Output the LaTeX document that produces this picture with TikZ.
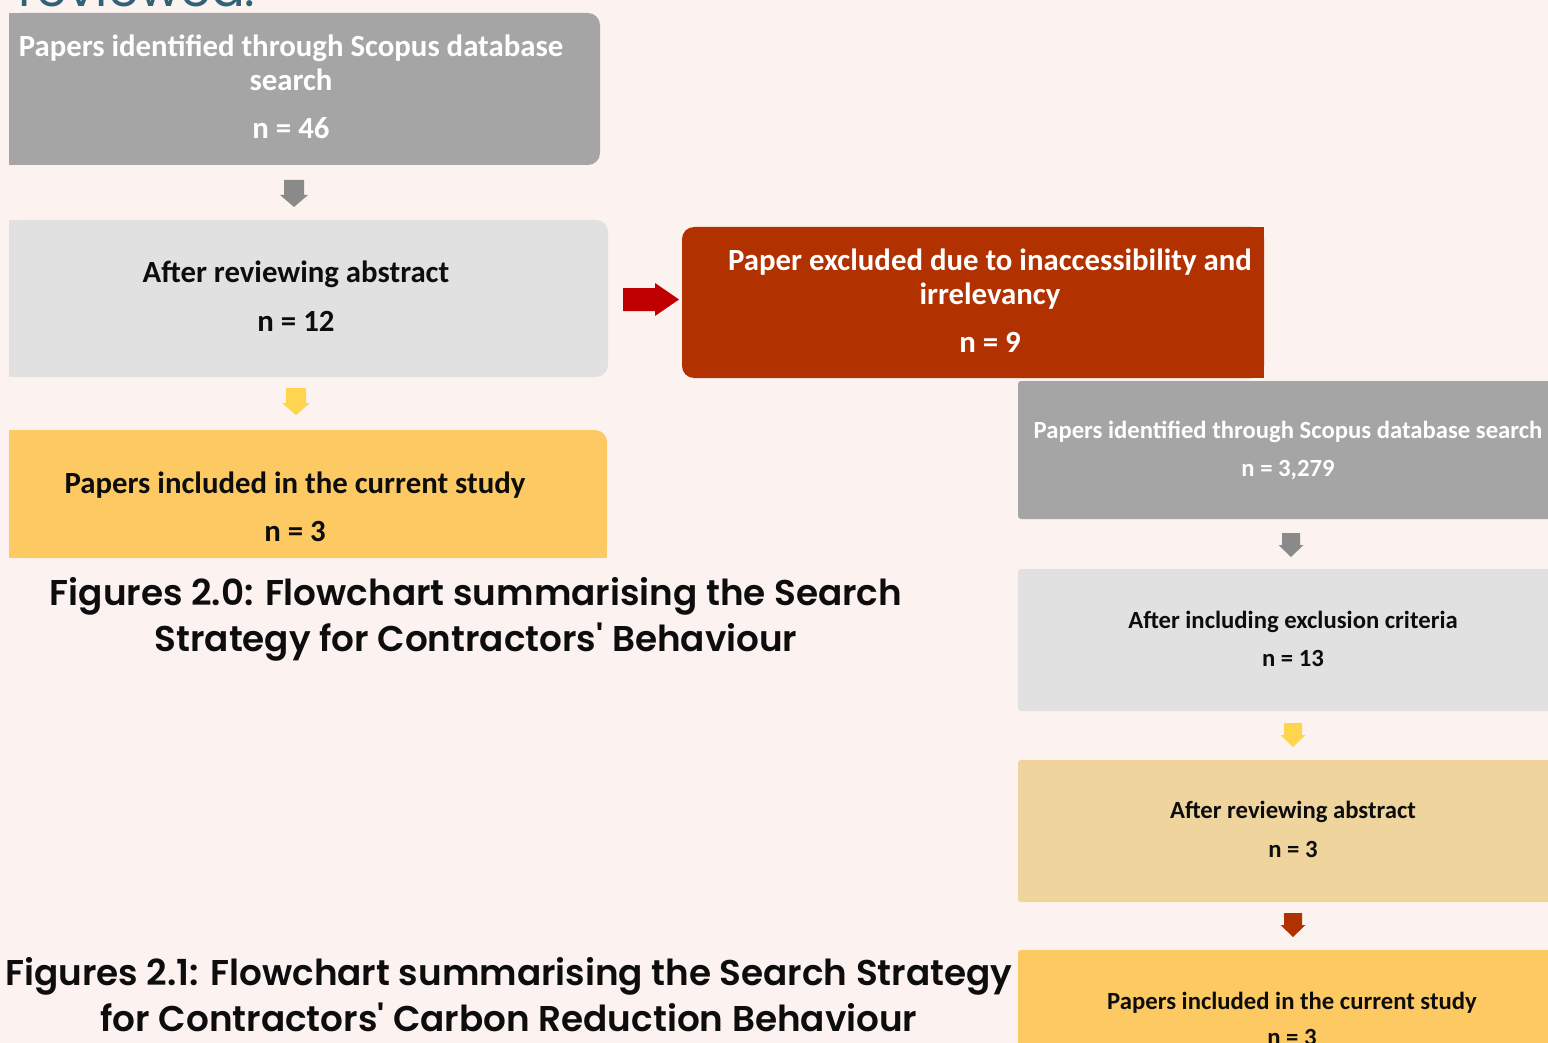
\documentclass[tikz,border=0pt]{standalone}
\usepackage{fontspec}
\setmainfont{Carlito}
\IfFontExistsTF{Poppins SemiBold}{\newfontfamily\capfont{Poppins SemiBold}}{\newfontfamily\capfontbase{Poppins}\newcommand\capfont{\capfontbase\bfseries}}
\newfontfamily\tealfont{Poppins}
\definecolor{bg}{HTML}{FCF3F0}
\definecolor{cgray}{HTML}{A5A5A5}
\definecolor{clight}{HTML}{E1E1E1}
\definecolor{corange}{HTML}{B23100}
\definecolor{cyellow}{HTML}{FCC962}
\definecolor{ctan}{HTML}{F0D49E}
\definecolor{cred}{HTML}{C00000}
\definecolor{cgarrow}{HTML}{8A8A8A}
\definecolor{cyarrow}{HTML}{FFD44F}
\definecolor{cteal}{HTML}{2E6274}
\definecolor{ctext}{HTML}{0D0D0D}
\begin{document}
\begin{tikzpicture}[x=1pt,y=-1pt,
  boxshape/.style={draw=none, inner sep=0pt, outer sep=0pt},
  lt/.style={anchor=base, inner sep=0pt, font=\fontsize{30.8}{33}\selectfont\bfseries},
  rt/.style={anchor=base, inner sep=0pt, font=\fontsize{24.7}{26}\selectfont\bfseries},
  captext/.style={anchor=base, inner sep=0pt, text=ctext, font=\fontsize{35.8}{46}\selectfont\capfont},
  darrL/.pic={\path[pic actions] (-10,0) -- (10,0) -- (10,15) -- (14,15) -- (0,27) -- (-14,15) -- (-10,15) -- cycle;},
  darrR/.pic={\path[pic actions] (-9,0) -- (9,0) -- (9,12) -- (12.5,12) -- (0,24) -- (-12.5,12) -- (-9,12) -- cycle;},
  rarr/.pic={\path[pic actions] (0,-11.5) -- (32,-11.5) -- (32,-16.5) -- (56,0) -- (32,16.5) -- (32,11.5) -- (0,11.5) -- cycle;}
]
\fill[bg] (0,0) rectangle (1548,1043);
\useasboundingbox (0,0) rectangle (1548,1043);

% partial heading at top
\node[anchor=base west, inner sep=0pt, text=cteal, font=\fontsize{50}{56}\selectfont\tealfont] (head) at (18,7) {reviewed.};

% left column boxes
\node[boxshape, fill=cgray, rounded corners=12, minimum width=591, minimum height=152] (A) at (304.5,89) {};
\fill[cgray] (A.south west) rectangle ([xshift=20pt]A.north west);
\node[boxshape, fill=clight, rounded corners=12, minimum width=599, minimum height=157] (B) at (308.5,298.5) {};
\fill[clight] (B.south west) rectangle ([xshift=20pt]B.north west);
\node[boxshape, fill=corange, rounded corners=12, minimum width=582, minimum height=151] (C) at (973,302.5) {};
\fill[corange] (C.south east) rectangle ([xshift=-20pt]C.north east);
\node[boxshape, fill=cyellow, rounded corners=12, minimum width=598, minimum height=128] (D) at (308,494) {};
\fill[cyellow] (D.south west) rectangle ([xshift=20pt]D.north west);
\fill[cyellow] (D.south west) rectangle ([yshift=20pt]D.south east);

% right column boxes
\node[boxshape, fill=cgray, rounded corners=3, minimum width=542, minimum height=138] (E) at (1289,450) {};
\node[boxshape, fill=clight, rounded corners=3, minimum width=542, minimum height=142] (F) at (1289,640) {};
\node[boxshape, fill=ctan, rounded corners=3, minimum width=542, minimum height=142] (G) at (1289,831) {};
\node[boxshape, fill=cyellow, rounded corners=3, minimum width=542, minimum height=110] (H) at (1289,1005) {};

% texts left
\node[lt, text=white] (At1) at (291,57) {Papers identified through Scopus database};
\node[lt, text=white] (At2) at (291,91) {search};
\node[lt, text=white] (At3) at (291,139) {n = 46};
\node[lt, text=ctext] (Bt1) at (296,283) {After reviewing abstract};
\node[lt, text=ctext] (Bt2) at (296,331) {n = 12};
\node[lt, text=white] (Ct1) at (990,270) {Paper excluded due to inaccessibility and};
\node[lt, text=white] (Ct2) at (990,304) {irrelevancy};
\node[lt, text=white] (Ct3) at (990,352) {n = 9};
\node[lt, text=ctext] (Dt1) at (295,493) {Papers included in the current study};
\node[lt, text=ctext] (Dt2) at (295,541) {n = 3};

% texts right
\node[rt, text=white] (Et1) at (1288,438) {Papers identified through Scopus database search};
\node[rt, text=white] (Et2) at (1288,476) {n = 3,279};
\node[rt, text=ctext] (Ft1) at (1293,628) {After including exclusion criteria};
\node[rt, text=ctext] (Ft2) at (1293,666) {n = 13};
\node[rt, text=ctext] (Gt1) at (1293,818) {After reviewing abstract};
\node[rt, text=ctext] (Gt2) at (1293,857) {n = 3};
\node[rt, text=ctext] (Ht1) at (1292,1009) {Papers included in the current study};
\node[rt, text=ctext] (Ht2) at (1292,1045) {n = 3};

% arrows
\pic[fill=cgarrow] (a1) at (294,180) {darrL};
\pic[fill=cyarrow] (a2) at (296,388) {darrL};
\pic[fill=cred] (a3) at (623,299.5) {rarr};
\pic[fill=cgarrow] (a4) at (1291,533) {darrR};
\pic[fill=cyarrow] (a5) at (1293,723) {darrR};
\pic[fill=corange] (a6) at (1293,913) {darrR};

% captions
\node[captext] (cap1a) at (476,605) {Figures 2.0: Flowchart summarising the Search};
\node[captext] (cap1b) at (476,651) {Strategy for Contractors' Behaviour};
\node[captext] (cap2a) at (509,985) {Figures 2.1: Flowchart summarising the Search Strategy};
\node[captext] (cap2b) at (509,1031) {for Contractors' Carbon Reduction Behaviour};
\end{tikzpicture}
\end{document}
